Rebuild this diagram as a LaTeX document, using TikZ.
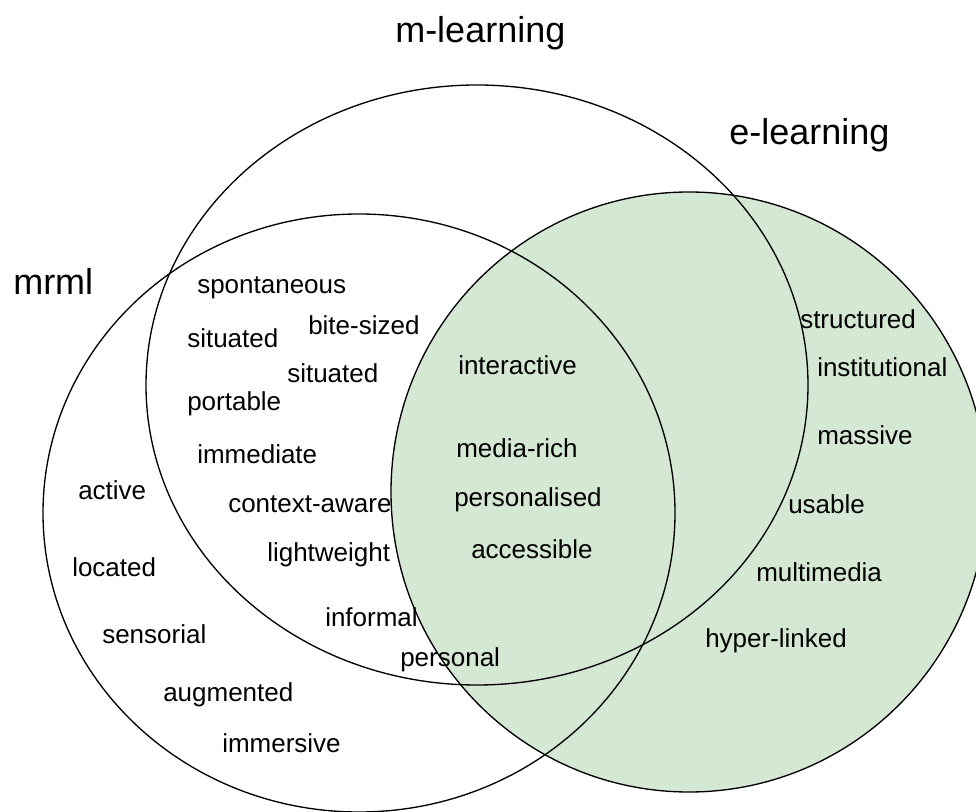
\documentclass[tikz,border=0pt]{standalone}
\usepackage{fontspec}
\setmainfont{Liberation Sans}
\definecolor{egreen}{HTML}{D5E8D4}
\begin{document}
\begin{tikzpicture}[x=0.75pt,y=-0.75pt,
  lbl/.style={anchor=base west, inner sep=0pt, font=\fontsize{19.5}{23}\selectfont},
  ttl/.style={anchor=base west, inner sep=0pt, font=\fontsize{27}{32}\selectfont},
  ring/.style={draw=black, line width=1pt}]
\useasboundingbox (0,0) rectangle (976,812);
\clip (0,0) rectangle (976,812);
% e-learning set (filled)
\fill[egreen] (689,492) ellipse [x radius=298, y radius=300];
\draw[ring] (689,492) ellipse [x radius=298, y radius=300];
% m-learning set
\draw[ring] (477,385) ellipse [x radius=331, y radius=300];
% mrml set
\draw[ring] (359,513) ellipse [x radius=316, y radius=299];
% titles
\node[ttl] (tm) at (395,43) {m-learning};
\node[ttl] (te) at (729,145) {e-learning};
\node[ttl] (tr) at (13,295) {mrml};
% m-learning / mrml overlap
\node[lbl] (spontaneous) at (197,294) {spontaneous};
\node[lbl] (situatedA) at (187,348) {situated};
\node[lbl] (bitesized) at (308,335) {bite-sized};
\node[lbl] (situatedB) at (287,383) {situated};
\node[lbl] (portable) at (187,411) {portable};
\node[lbl] (immediate) at (197,464) {immediate};
\node[lbl] (contextaware) at (228,513) {context-aware};
\node[lbl] (lightweight) at (267,562) {lightweight};
\node[lbl] (informal) at (325,627) {informal};
\node[lbl] (personal) at (400,667) {personal};
% mrml only
\node[lbl] (active) at (78,500) {active};
\node[lbl] (located) at (72,577) {located};
\node[lbl] (sensorial) at (102,644) {sensorial};
\node[lbl] (augmented) at (163,702) {augmented};
\node[lbl] (immersive) at (222,753) {immersive};
% centre
\node[lbl] (interactive) at (458,375) {interactive};
\node[lbl] (mediarich) at (456,458) {media-rich};
\node[lbl] (personalised) at (454,507) {personalised};
\node[lbl] (accessible) at (471,559) {accessible};
% e-learning only
\node[lbl] (structured) at (800,329) {structured};
\node[lbl] (institutional) at (817,377) {institutional};
\node[lbl] (massive) at (817,445) {massive};
\node[lbl] (usable) at (788,514) {usable};
\node[lbl] (multimedia) at (756,582) {multimedia};
\node[lbl] (hyperlinked) at (705,648) {hyper-linked};
\end{tikzpicture}
\end{document}
